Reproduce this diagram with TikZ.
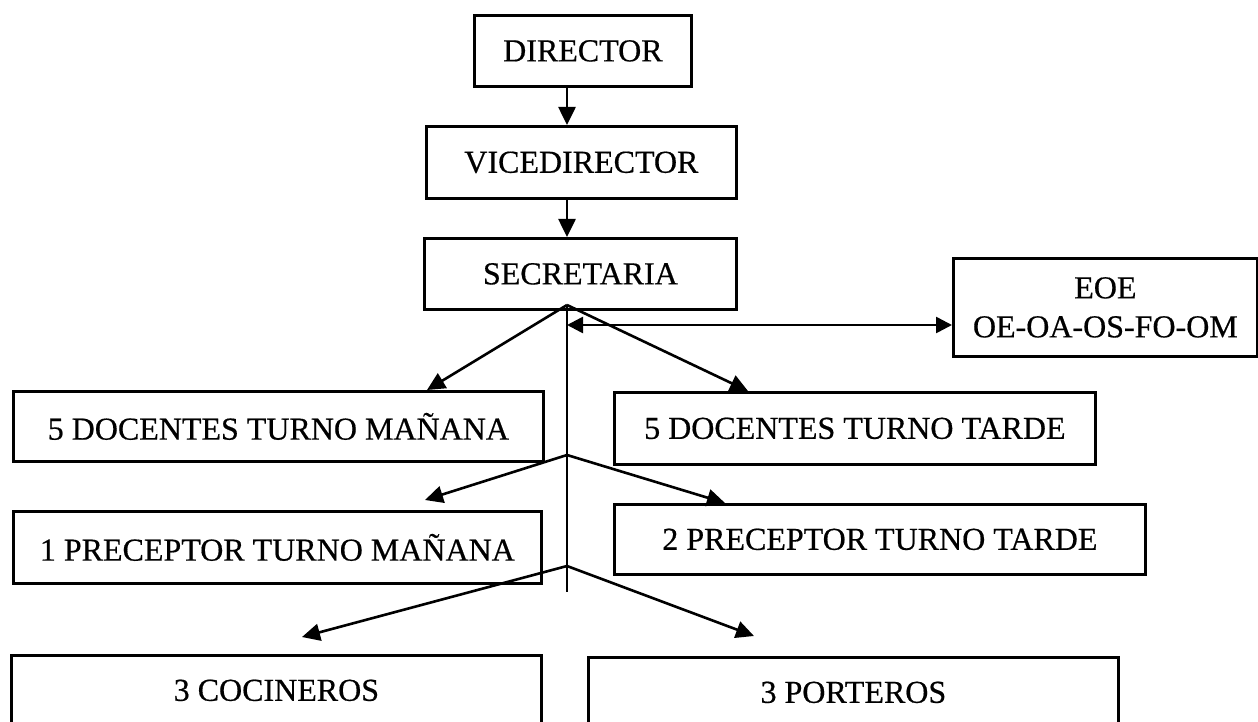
\documentclass[tikz,border=0pt]{standalone}
\usepackage{fontspec}
\setmainfont{Liberation Serif}[FakeBold=0.5]
\usetikzlibrary{arrows.meta}
\begin{document}
\begin{tikzpicture}[x=1pt,y=-1pt,
  box/.style={draw, line width=2.8pt, inner sep=0pt, anchor=north west,
    font=\fontsize{32}{39}\selectfont, align=center},
  conn/.style={line width=2.6pt, -{Triangle[length=18pt,width=17pt]}},
  dconn/.style={line width=2.6pt, {Triangle[length=16pt,width=16pt]}-{Triangle[length=16pt,width=16pt]}},
  vline/.style={line width=1.9pt}]
\useasboundingbox (0,0) rectangle (1258,722);

\node[box, minimum width=217pt, minimum height=71pt] (dir) at (473,14) {DIRECTOR};
\node[box, minimum width=310pt, minimum height=72pt] (vice) at (425,125) {VICEDIRECTOR};
\node[box, minimum width=312pt, minimum height=71pt] (sec) at (423,237) {SECRETARIA};
\node[box, minimum width=304pt, minimum height=98pt] (eoe) at (952,257) {EOE\\OE-OA-OS-FO-OM};
\node[box, minimum width=530pt, minimum height=70pt] (docm) at (12,390) {5 DOCENTES TURNO MAÑANA};
\node[box, minimum width=481pt, minimum height=72pt] (doct) at (613,391) {5 DOCENTES TURNO TARDE};
\node[box, minimum width=528pt, minimum height=72pt] (prem) at (12,510) {1 PRECEPTOR TURNO MAÑANA};
\node[box, minimum width=531pt, minimum height=70pt] (pret) at (613,503) {2 PRECEPTOR TURNO TARDE};
\node[box, minimum width=530pt, minimum height=70pt] (coc) at (10,654) {3 COCINEROS};
\node[box, minimum width=530pt, minimum height=70pt] (por) at (587,656) {3 PORTEROS};

\coordinate (apex) at (567,305);
\coordinate (vend) at (567,592);
\coordinate (dl) at (567,325);
\coordinate (f2) at (567,455);
\coordinate (f3) at (567,566);
\coordinate (t3) at (425,500);
\coordinate (t5) at (302,637);
\coordinate (t6) at (754,636);

\draw[conn] (dir.south -| apex) -- (vice.north -| apex);
\draw[conn] (vice.south -| apex) -- (sec.north -| apex);
\draw[vline] (apex) -- (vend);
\draw[dconn] (dl) -- (eoe.west |- dl);
\draw[conn] (apex) -- ([xshift=415pt]docm.north west);
\draw[conn] (apex) -- ([xshift=135pt]doct.north west);
\draw[conn] (f2) -- (t3);
\draw[conn] (f2) -- ([xshift=112pt]pret.north west);
\draw[conn] (f3) -- (t5);
\draw[conn] (f3) -- (t6);
\end{tikzpicture}
\end{document}
